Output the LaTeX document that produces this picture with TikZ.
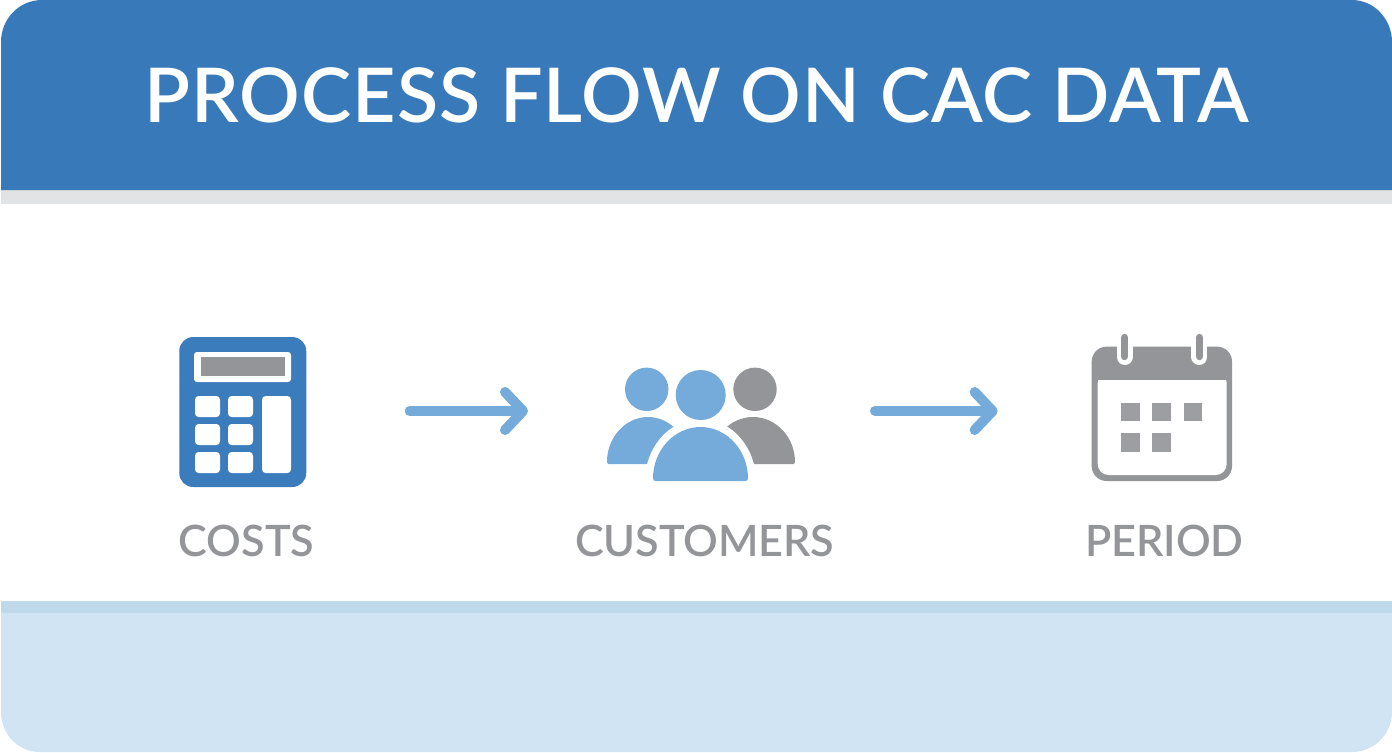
\documentclass[tikz,border=0pt]{standalone}
\usepackage{fontspec}
\setmainfont{Lato}
\newfontfamily\titlefont[LetterSpace=1.3]{Lato Semibold}
\newfontfamily\labelfont[LetterSpace=-0.3]{Lato Semibold}
\usetikzlibrary{arrows.meta}
\definecolor{bandblue}{HTML}{3879B9}
\definecolor{iconblue}{HTML}{3B7CBC}
\definecolor{softblue}{HTML}{74ABDA}
\definecolor{midgrey}{HTML}{939598}
\definecolor{ltgrey}{HTML}{9C9EA1}
\definecolor{stripgrey}{HTML}{E2E3E5}
\definecolor{stripblue}{HTML}{BFD9EB}
\definecolor{paleblue}{HTML}{D1E4F3}
\newcommand{\dome}[4]{({#1-#2},#4) .. controls ({#1-#2},{#4-.55*(#4-#3)}) and ({#1-.55*#2},#3) .. (#1,#3) .. controls ({#1+.55*#2},#3) and ({#1+#2},{#4-.55*(#4-#3)}) .. ({#1+#2},#4) -- cycle}
\tikzset{
  x=0.5pt,y=-0.5pt,
  anchorbox/.style={inner sep=0pt,outer sep=0pt,minimum width=#1},
  flowarrow/.style={draw=softblue,line width=5pt,line cap=round,line join=round,-{Straight Barb[length=9pt,width=19pt,round,line width=5pt]}},
  lbl/.style={text=midgrey,font=\labelfont\fontsize{21.6}{24}\selectfont,inner sep=0pt,anchor=base},
  key/.style={fill=white,rounded corners=1.8pt},
  softdome/.style={fill=softblue,draw=softblue,line width=2pt,line join=round},
  greydome/.style={fill=midgrey,draw=midgrey,line width=2pt,line join=round},
  haloline/.style={draw=white,line width=8pt},
  square/.style={fill=ltgrey}
}
\begin{document}
\begin{tikzpicture}
\useasboundingbox (0,0) rectangle (1392,752);
\fill[white] (0,0) rectangle (1392,752);
% bands
\fill[paleblue] (1,613) -- (1,712) .. controls (1,734) and (18,752) .. (40,752) -- (1352,752) .. controls (1374,752) and (1392,734) .. (1392,712) -- (1392,613) -- cycle;
\fill[stripblue] (1,601) rectangle (1392,613);
\fill[stripgrey] (1,190) rectangle (1392,204);
\fill[bandblue] (1,190) -- (1,42) .. controls (1,19) and (19,0) .. (42,0) -- (1352,0) .. controls (1374,0) and (1392,19) .. (1392,42) -- (1392,190) -- cycle;
\node[text=white,font=\titlefont\fontsize{37.7}{44}\selectfont,inner sep=0pt,anchor=base] (title) at (696.5,122) {PROCESS FLOW ON CAC DATA};
% calculator
\node[fill=iconblue,rounded corners=7pt,inner sep=0pt,minimum width=63.5pt,minimum height=75pt] (calc) at (242.75,412) {};
\fill[white,rounded corners=1.5pt] (194,352) rectangle (291,382);
\fill[midgrey] (201,357) rectangle (285,376);
\foreach \xa/\xb in {195/220,228/253}
  \foreach \ya/\yb in {396/417,424/445,452/473}
    \fill[key] (\xa,\ya) rectangle (\xb,\yb);
\fill[key] (262,396) rectangle (291,473);
% people
\node[anchorbox=93.5pt,minimum height=60pt] (people) at (701,411) {};
\fill[softblue] (646.7,389.3) circle[radius=21.7];
\fill[midgrey] (755,389.3) circle[radius=21.7];
\path[softdome] \dome{648}{39}{419}{462};
\path[greydome] \dome{753}{40}{419}{462};
\fill[white] (600,465) rectangle (800,490);
\path[draw=white,fill=white,line width=8pt,line join=round] \dome{700.5}{47.5}{427}{481};
\fill[softblue] (700.7,395) circle[radius=25];
\path[softdome,line width=2.5pt] \dome{700.5}{45}{429.5}{478.5};
% calendar
\node[fill=midgrey,rounded corners=7.5pt,inner sep=0pt,minimum width=70.2pt,minimum height=67.2pt] (cal) at (1161.85,413.8) {};
\fill[white,rounded corners=5.5pt] (1097.7,372) -- (1097.7,475) -- (1226.7,475) -- (1226.7,372) -- cycle;
\fill[midgrey] (1095,366) rectangle (1229,380);
\foreach \xr in {1124.7,1199.3}{
  \draw[haloline,line cap=round] (\xr,330) -- (\xr,357);
  \draw[midgrey,line width=3.7pt,line cap=round] (\xr,337.5) -- (\xr,356.5);
}
\foreach \xa/\xb/\ya/\yb in {1121.3/1140/402.7/421.3,1152.3/1171.3/402.7/421.3,1183.7/1202.3/402.7/421.3,1121.3/1140/432.7/451.7,1152.3/1171.3/432.7/451.7}
  \fill[square] (\xa,\ya) rectangle (\xb,\yb);
% connectors
\draw[flowarrow,shorten <=51.5pt,shorten >=39.75pt] (people.west -| calc.east) -- (people.west);
\draw[flowarrow,shorten <=40.25pt,shorten >=46.8pt] (people.east) -- (people.east -| cal.west);
% labels
\node[lbl] (costs) at (246.5,556) {COSTS};
\node[lbl] (customers) at (704.5,556) {CUSTOMERS};
\node[lbl] (period) at (1164.5,556) {PERIOD};
\end{tikzpicture}
\end{document}
